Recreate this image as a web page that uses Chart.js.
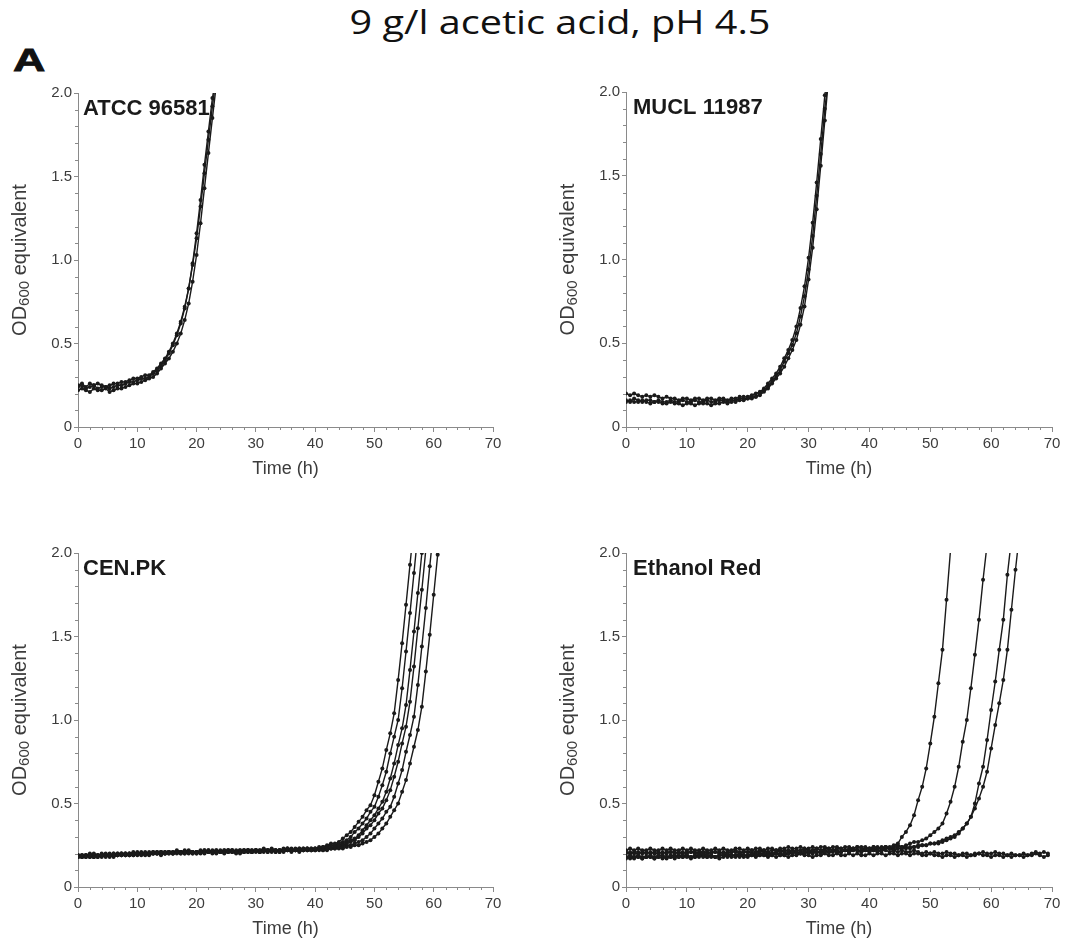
<!DOCTYPE html>
<html>
<head>
<meta charset="utf-8">
<script src="https://cdn.jsdelivr.net/npm/chart.js@4.4.1/dist/chart.umd.min.js"></script>
<style>
  html, body { margin: 0; padding: 0; background: #fff; }
  body { width: 1066px; height: 942px; position: relative; overflow: hidden; }
  canvas { position: absolute; }
  #title {
    position: absolute; left: 0; width: 1120px; top: 2px; text-align: center;
    font-family: "Open Sans", sans-serif; font-size: 33px; color: #111; line-height: 40px;
    transform: scaleX(1.2); transform-origin: 560px 0;
  }
  #tag {
    position: absolute; left: 13px; top: 44px; line-height: 32px;
    font-family: "Liberation Sans", Arial, sans-serif; font-weight: bold; font-size: 32px;
    color: #111; transform: scaleX(1.4); transform-origin: left top;
    -webkit-text-stroke: 0.8px #111;
  }
</style>
</head>
<body>
<div id="title">9 g/l acetic acid, pH 4.5</div>
<div id="tag">A</div>
<canvas id="atcc" width="520" height="410" style="left:0;top:80px"></canvas>
<canvas id="mucl" width="520" height="410" style="left:546px;top:80px"></canvas>
<canvas id="cenpk" width="520" height="402" style="left:0;top:540px"></canvas>
<canvas id="ethred" width="520" height="402" style="left:546px;top:540px"></canvas>
<script>
// sampling times of the plate reader (h), one reading every 40 min
const timeH = [
  0, 0.67, 1.33, 2, 2.67, 3.33, 4, 4.67, 5.33, 6, 6.67, 7.33, 8, 8.67, 9.33, 10, 10.67, 11.33, 12, 12.67,
  13.33, 14, 14.67, 15.33, 16, 16.67, 17.33, 18, 18.67, 19.33, 20, 20.67, 21.33, 22, 22.67, 23.33, 24, 24.67, 25.33, 26,
  26.67, 27.33, 28, 28.67, 29.33, 30, 30.67, 31.33, 32, 32.67, 33.33, 34, 34.67, 35.33, 36, 36.67, 37.33, 38, 38.67, 39.33,
  40, 40.67, 41.33, 42, 42.67, 43.33, 44, 44.67, 45.33, 46, 46.67, 47.33, 48, 48.67, 49.33, 50, 50.67, 51.33, 52, 52.67,
  53.33, 54, 54.67, 55.33, 56, 56.67, 57.33, 58, 58.67, 59.33, 60, 60.67, 61.33, 62, 62.67, 63.33, 64, 64.67, 65.33, 66,
  66.67, 67.33, 68, 68.67, 69.33, 70
];
const xTicks = [0, 10, 20, 30, 40, 50, 60, 70];
const yTicks = [0, 0.5, 1.0, 1.5, 2.0];

// ATCC 96581
const atccA = [0.24,0.25,0.23,0.24,0.25,0.23,0.24,0.24,0.23,0.24,0.25,0.25,0.26,0.27,0.27,0.28,0.29,0.29,0.30,0.32,
  0.34,0.37,0.40,0.44,0.49,0.55,0.62,0.71,0.83,0.98,1.16,1.36,1.57,1.77,1.97,2.1];
const atccB = [0.22,0.23,0.22,0.21,0.23,0.22,0.22,0.23,0.21,0.22,0.23,0.23,0.24,0.25,0.26,0.26,0.27,0.28,0.29,0.30,
  0.32,0.35,0.38,0.41,0.45,0.50,0.56,0.64,0.74,0.87,1.03,1.22,1.43,1.64,1.85,2.05];
const atccC = [0.25,0.26,0.24,0.26,0.25,0.26,0.25,0.24,0.25,0.26,0.26,0.27,0.27,0.28,0.29,0.29,0.30,0.31,0.31,0.33,
  0.35,0.38,0.41,0.45,0.50,0.56,0.63,0.72,0.83,0.97,1.13,1.32,1.52,1.72,1.92,2.1];

// MUCL 11987
const muclA = [0.15,0.16,0.15,0.15,0.16,0.15,0.14,0.15,0.15,0.14,0.14,0.15,0.14,0.14,0.13,0.14,0.14,0.13,0.14,0.14,
  0.14,0.13,0.14,0.14,0.15,0.14,0.15,0.15,0.16,0.16,
  0.17,0.17,0.18,0.20,0.22,0.24,0.27,0.30,0.34,0.39,0.44,0.49,0.56,0.66,0.78,0.94,1.14,1.38,1.63,1.90,2.1];
const muclB = [0.20,0.19,0.20,0.19,0.18,0.19,0.18,0.19,0.18,0.17,0.18,0.17,0.17,0.16,0.17,0.17,0.16,0.17,0.17,0.16,
  0.17,0.17,0.16,0.17,0.17,0.16,0.17,0.17,0.18,0.18,
  0.18,0.19,0.20,0.21,0.23,0.26,0.29,0.32,0.36,0.41,0.46,0.52,0.60,0.71,0.84,1.01,1.22,1.46,1.72,1.98,2.15];
const muclC = [0.16,0.15,0.17,0.16,0.15,0.16,0.16,0.15,0.16,0.15,0.15,0.16,0.15,0.15,0.16,0.15,0.15,0.16,0.15,0.15,
  0.16,0.15,0.15,0.16,0.16,0.15,0.16,0.16,0.17,0.17,
  0.17,0.18,0.18,0.19,0.21,0.23,0.26,0.29,0.32,0.36,0.41,0.46,0.52,0.61,0.72,0.88,1.07,1.30,1.56,1.83,2.1];

// CEN.PK
const cenpk1 = [0.18,0.19,0.18,0.19,0.18,0.19,0.19,0.18,0.19,0.20,0.19,0.19,0.20,0.19,0.20,0.20,0.19,0.20,0.20,0.21,
  0.20,0.19,0.20,0.21,0.20,0.21,0.20,0.21,0.21,0.20,
  0.21,0.21,0.20,0.21,0.22,0.21,0.21,0.20,0.21,0.22,0.21,0.20,0.21,0.22,0.21,0.22,0.21,0.22,0.21,0.22,
  0.22,0.21,0.22,0.23,0.22,0.22,0.21,0.22,0.23,0.22,
  0.23,0.24,0.24,0.25,0.26,0.26,0.27,0.29,0.31,0.33,0.36,0.39,0.42,0.46,0.49,0.55,0.63,0.71,0.82,0.92,
  1.04,1.24,1.46,1.69,1.93,2.17];
const cenpk2 = [0.19,0.18,0.19,0.20,0.19,0.18,0.19,0.19,0.20,0.19,0.19,0.20,0.19,0.20,0.21,0.20,0.20,0.19,0.20,0.20,
  0.21,0.20,0.21,0.20,0.20,0.21,0.21,0.20,0.21,0.21,
  0.20,0.21,0.22,0.21,0.21,0.22,0.21,0.21,0.22,0.21,0.20,0.21,0.22,0.21,0.22,0.22,0.21,0.22,0.22,0.21,
  0.22,0.22,0.21,0.22,0.23,0.22,0.22,0.23,0.22,0.22,
  0.23,0.23,0.24,0.24,0.25,0.25,0.26,0.27,0.28,0.30,0.33,0.35,0.38,0.41,0.45,0.48,0.54,0.61,0.69,0.80,
  0.90,1.00,1.19,1.41,1.64,1.88,2.12];
const cenpk3 = [0.18,0.18,0.19,0.18,0.18,0.19,0.18,0.19,0.19,0.18,0.19,0.20,0.19,0.19,0.20,0.19,0.20,0.20,0.19,0.20,
  0.20,0.21,0.20,0.20,0.21,0.20,0.20,0.21,0.20,0.21,
  0.21,0.20,0.21,0.21,0.20,0.21,0.21,0.22,0.21,0.21,0.21,0.22,0.21,0.21,0.22,0.21,0.21,0.22,0.21,0.22,
  0.22,0.21,0.22,0.22,0.21,0.22,0.22,0.23,0.22,0.22,
  0.23,0.22,0.23,0.23,0.24,0.24,
  0.25,0.26,0.27,0.28,0.29,0.31,0.34,0.37,0.40,0.43,0.47,0.51,0.57,0.65,0.74,0.85,0.95,1.09,1.30,1.53,
  1.76,2.00,2.20];
const cenpk4 = [0.19,0.19,0.18,0.19,0.20,0.19,0.19,0.20,0.19,0.19,0.20,0.20,0.19,0.20,0.20,0.21,0.20,0.20,0.21,0.20,
  0.21,0.21,0.20,0.21,0.21,0.22,0.21,0.21,0.22,0.21,
  0.21,0.22,0.21,0.22,0.21,0.21,0.22,0.21,0.22,0.22,0.21,0.21,0.22,0.22,0.21,0.22,0.22,0.23,0.22,0.22,
  0.21,0.22,0.23,0.22,0.22,0.23,0.22,0.22,0.23,0.23,
  0.22,0.23,0.23,0.24,0.23,0.24,
  0.24,0.25,0.26,0.27,0.28,0.30,0.32,0.35,0.37,0.40,0.44,0.47,0.52,0.58,0.66,0.75,0.86,0.96,1.11,1.32,
  1.55,1.78,2.02];
const cenpk5 = [0.18,0.19,0.19,0.18,0.19,0.18,0.19,0.19,0.18,0.20,0.19,0.19,0.20,0.19,0.19,0.20,0.20,0.21,0.20,0.20,
  0.20,0.21,0.20,0.21,0.20,0.21,0.21,0.20,0.21,0.20,
  0.21,0.21,0.22,0.21,0.21,0.20,0.21,0.22,0.21,0.22,0.21,0.21,0.22,0.22,0.21,0.22,0.21,0.22,0.22,0.22,
  0.21,0.22,0.22,0.23,0.22,0.22,0.23,0.22,0.22,0.23,
  0.22,0.23,0.22,0.23,0.23,0.23,
  0.24,0.24,0.25,0.25,0.26,0.27,0.28,0.30,0.32,0.35,0.38,0.41,0.45,0.48,0.54,0.62,0.70,0.81,0.91,1.02,
  1.21,1.44,1.67,1.92,2.15];
const cenpk6 = [0.19,0.18,0.19,0.19,0.18,0.19,0.20,0.19,0.19,0.19,0.20,0.19,0.20,0.20,0.19,0.20,0.21,0.20,0.20,0.21,
  0.20,0.20,0.21,0.21,0.20,0.21,0.21,0.22,0.21,0.21,
  0.20,0.21,0.21,0.22,0.21,0.22,0.21,0.21,0.22,0.21,0.22,0.22,0.21,0.22,0.21,0.22,0.22,0.21,0.22,0.23,
  0.22,0.22,0.22,0.23,0.22,0.22,0.23,0.22,0.23,0.22,
  0.22,0.23,0.22,0.22,0.23,0.23,
  0.23,0.23,0.24,0.24,0.25,0.25,0.26,0.27,0.28,0.30,0.32,0.35,0.38,0.42,0.46,0.50,0.57,0.64,0.74,0.84,
  0.94,1.08,1.29,1.51,1.75,1.99,2.20];

// Ethanol Red: four wells grow, two stay flat
const ethRed1 = [0.22,0.23,0.22,0.23,0.22,0.22,0.23,0.22,0.22,0.23,0.22,0.23,0.22,0.22,0.23,0.22,0.23,0.22,0.22,0.23,
  0.22,0.22,0.23,0.22,0.23,0.22,0.22,0.23,0.23,0.22,
  0.23,0.22,0.23,0.23,0.22,0.23,0.23,0.22,0.23,0.23,0.24,0.23,0.23,0.24,0.23,0.23,0.24,0.23,0.24,0.24,
  0.23,0.24,0.24,0.23,0.24,0.24,0.23,0.24,0.24,0.24,
  0.23,0.24,0.24,0.23,0.24,0.24,0.25,
  0.26,0.30,0.33,0.37,0.43,0.52,0.60,0.71,0.86,1.02,1.22,1.42,1.72,2.02];
const ethRed2 = [0.20,0.21,0.20,0.20,0.21,0.20,0.21,0.20,0.20,0.21,0.20,0.21,0.21,0.20,0.21,0.20,0.21,0.21,0.20,0.21,
  0.21,0.20,0.21,0.21,0.20,0.21,0.21,0.22,0.21,0.21,
  0.21,0.22,0.21,0.21,0.22,0.21,0.22,0.22,0.21,0.22,0.22,0.21,0.22,0.22,0.23,0.22,0.22,0.23,0.22,0.23,
  0.23,0.22,0.23,0.23,0.22,0.23,0.23,0.24,0.23,0.23,
  0.23,0.24,0.23,0.24,0.24,0.23,0.24,0.25,0.24,0.25,
  0.26,0.27,0.27,0.28,0.29,0.31,0.33,0.35,0.38,0.44,0.51,0.60,0.72,0.87,1.00,1.19,1.39,1.60,1.84,2.05];
const ethRed3 = [0.18,0.19,0.18,0.19,0.18,0.18,0.19,0.18,0.19,0.19,0.18,0.19,0.19,0.18,0.19,0.19,0.18,0.19,0.19,0.20,
  0.19,0.19,0.18,0.19,0.19,0.20,0.19,0.19,0.20,0.19,
  0.19,0.20,0.19,0.20,0.20,0.19,0.20,0.20,0.19,0.20,0.20,0.21,0.20,0.20,0.21,0.20,0.21,0.21,0.20,0.21,
  0.21,0.22,0.21,0.21,0.22,0.21,0.22,0.22,0.21,0.22,
  0.22,0.23,0.22,0.22,0.23,0.23,0.22,0.23,0.23,0.24,0.23,0.24,0.24,0.25,0.25,0.26,0.26,0.27,
  0.28,0.29,0.30,0.31,0.33,0.35,0.38,0.42,0.50,0.62,0.72,0.88,1.06,1.23,1.42,1.60,1.87,2.08];
const ethRed4 = [0.17,0.18,0.17,0.18,0.17,0.18,0.18,0.17,0.18,0.17,0.18,0.18,0.17,0.18,0.18,0.19,0.18,0.18,0.19,0.18,
  0.18,0.19,0.18,0.19,0.19,0.18,0.19,0.19,0.18,0.19,
  0.19,0.19,0.20,0.19,0.19,0.20,0.19,0.20,0.20,0.19,0.20,0.20,0.21,0.20,0.20,0.21,0.20,0.21,0.21,0.22,
  0.21,0.21,0.22,0.21,0.22,0.22,0.23,0.22,0.22,0.23,
  0.23,0.22,0.23,0.23,0.24,0.23,0.23,0.24,0.24,0.23,0.24,0.24,0.25,0.25,0.25,0.26,0.26,0.26,
  0.27,0.28,0.29,0.30,0.32,0.35,0.38,0.42,0.47,0.53,0.60,0.69,0.83,0.97,1.10,1.24,1.42,1.66,1.90,2.12];
const ethRedFlat1 = [0.21,0.20,0.21,0.21,0.20,0.21,0.20,0.21,0.21,0.20,0.21,0.21,0.20,0.21,0.20,0.21,0.21,0.20,0.21,0.21,
  0.20,0.21,0.21,0.20,0.21,0.20,0.21,0.21,0.20,0.21,
  0.21,0.20,0.21,0.22,0.21,0.21,0.20,0.21,0.22,0.21,0.21,0.22,0.21,0.21,0.22,0.21,0.22,0.21,0.21,0.22,
  0.21,0.22,0.21,0.21,0.22,0.21,0.22,0.22,0.21,0.22,
  0.21,0.22,0.21,0.22,0.22,0.21,0.22,0.21,0.22,0.21,0.21,0.22,0.21,0.20,0.21,0.20,0.21,0.20,0.20,0.21,
  0.20,0.20,0.19,0.20,0.20,0.19,0.20,0.20,0.21,0.20,
  0.20,0.21,0.20,0.20,0.19,0.20,0.19,0.19,0.20,0.19,0.20,0.21,0.20,0.21,0.20];
const ethRedFlat2 = [0.18,0.17,0.18,0.18,0.17,0.18,0.18,0.17,0.18,0.18,0.17,0.18,0.18,0.19,0.18,0.18,0.17,0.18,0.18,0.19,
  0.18,0.18,0.18,0.17,0.18,0.19,0.18,0.18,0.19,0.18,
  0.18,0.19,0.18,0.19,0.19,0.18,0.19,0.18,0.19,0.19,0.18,0.19,0.19,0.20,0.19,0.19,0.18,0.19,0.19,0.20,
  0.19,0.19,0.20,0.19,0.19,0.20,0.19,0.20,0.19,0.19,
  0.20,0.19,0.20,0.20,0.19,0.20,0.20,0.19,0.20,0.20,0.19,0.20,0.20,0.19,0.19,0.20,0.19,0.19,0.18,0.19,
  0.19,0.18,0.19,0.19,0.18,0.19,0.19,0.20,0.19,0.19,
  0.18,0.19,0.19,0.18,0.19,0.18,0.19,0.19,0.18,0.19,0.19,0.20,0.19,0.18,0.19];

const ink = '#1a1a1a';
const axisGray = '#8a8a8a';
const labelGray = '#3c3c3c';
const sansFont = '"Liberation Sans", Arial, Helvetica, sans-serif';

// minor ticks, axis titles and the strain name
const panelDecor = {
  id: 'panelDecor',
  beforeDatasetsDraw(chart, args, opts) {
    const { ctx, chartArea: a } = chart;
    ctx.save();
    ctx.fillStyle = '#1a1a1a';
    ctx.font = 'bold 22px ' + sansFont;
    ctx.textBaseline = 'alphabetic';
    ctx.textAlign = 'left';
    ctx.fillText(opts.label, a.left + opts.labelDx, a.top + 22);
    ctx.restore();
  },
  afterDraw(chart, args, opts) {
    const { ctx, chartArea: a, scales } = chart;
    const x = scales.x, y = scales.y;
    ctx.save();
    ctx.strokeStyle = axisGray;
    ctx.lineWidth = 1;
    ctx.beginPath();
    for (let t = 0; t <= 70; t += 2) {
      if (t % 10 === 0) continue;
      const px = Math.round(x.getPixelForValue(t)) + 0.5;
      ctx.moveTo(px, a.bottom);
      ctx.lineTo(px, a.bottom + 3);
    }
    for (let k = 0; k <= 20; k++) {
      if (k % 5 === 0) continue;
      const py = Math.round(y.getPixelForValue(k / 10)) + 0.5;
      ctx.moveTo(a.left, py);
      ctx.lineTo(a.left - 3, py);
    }
    ctx.stroke();

    // x title
    ctx.fillStyle = labelGray;
    ctx.font = '18px ' + sansFont;
    ctx.textAlign = 'center';
    ctx.textBaseline = 'middle';
    ctx.fillText('Time (h)', (a.left + a.right) / 2, a.bottom + 42);

    // y title with subscript wavelength
    ctx.translate(a.left - 59, (a.top + a.bottom) / 2);
    ctx.rotate(-Math.PI / 2);
    const big = '20px ' + sansFont, small = '15px ' + sansFont;
    ctx.font = big;
    const wOD = ctx.measureText('OD').width;
    const wRest = ctx.measureText(' equivalent').width;
    ctx.font = small;
    const wSub = ctx.measureText('600').width;
    let cx = -(wOD + wSub + wRest) / 2;
    ctx.textAlign = 'left';
    ctx.textBaseline = 'alphabetic';
    ctx.font = big;
    ctx.fillText('OD', cx, 7);
    cx += wOD;
    ctx.font = small;
    ctx.fillText('600', cx, 10);
    cx += wSub;
    ctx.font = big;
    ctx.fillText(' equivalent', cx, 7);
    ctx.restore();
  }
};

function makePanel(id, label, labelDx, series, box) {
  const datasets = series.map(values => ({
    data: values,
    borderColor: ink,
    backgroundColor: ink,
    borderWidth: 1.4,
    pointRadius: 2,
    pointBorderWidth: 0,
    tension: 0
  }));
  return new Chart(document.getElementById(id), {
    type: 'line',
    data: { labels: timeH, datasets },
    plugins: [panelDecor],
    options: {
      responsive: false,
      animation: false,
      layout: { padding: { top: box.top, right: box.right, left: 0, bottom: 0 } },
      plugins: {
        legend: { display: false },
        tooltip: { enabled: false },
        panelDecor: { label, labelDx }
      },
      scales: {
        x: {
          type: 'linear', min: 0, max: 70,
          afterFit: s => { s.height = box.xh; },
          afterBuildTicks: s => { s.ticks = xTicks.map(v => ({ value: v })); },
          border: { display: true, color: axisGray, width: 1 },
          grid: { drawOnChartArea: false, drawTicks: true, tickLength: 5, color: axisGray },
          ticks: { color: labelGray, font: { family: sansFont, size: 15 }, padding: 3, maxRotation: 0,
                   callback: v => String(v) }
        },
        y: {
          type: 'linear', min: 0, max: 2,
          afterFit: s => { s.width = box.yw; },
          afterBuildTicks: s => { s.ticks = yTicks.map(v => ({ value: v })); },
          border: { display: true, color: axisGray, width: 1 },
          grid: { drawOnChartArea: false, drawTicks: true, tickLength: 4, color: axisGray },
          ticks: { color: labelGray, font: { family: sansFont, size: 15 }, padding: 2,
                   callback: v => (v === 0 ? '0' : v.toFixed(1)) }
        }
      }
    }
  });
}

makePanel('atcc', 'ATCC 96581', 5, [atccA, atccB, atccC], { top: 13, right: 27, yw: 78, xh: 63 });
makePanel('mucl', 'MUCL 11987', 7, [muclA, muclB, muclC], { top: 12, right: 14, yw: 80, xh: 63 });
makePanel('cenpk', 'CEN.PK', 5, [cenpk1, cenpk2, cenpk3, cenpk4, cenpk5, cenpk6], { top: 13, right: 27, yw: 78, xh: 55 });
makePanel('ethred', 'Ethanol Red', 7, [ethRed1, ethRed2, ethRed3, ethRed4, ethRedFlat1, ethRedFlat2], { top: 13, right: 14, yw: 80, xh: 55 });
</script>
</body>
</html>
